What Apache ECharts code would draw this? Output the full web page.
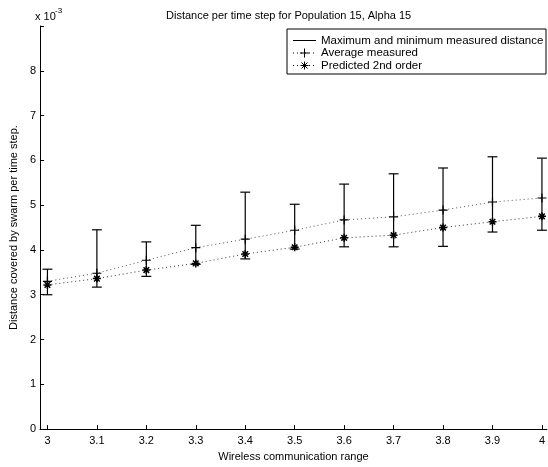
<!DOCTYPE html>
<html>
<head>
<meta charset="utf-8">
<script src="https://cdn.jsdelivr.net/npm/echarts@6/dist/echarts.min.js"></script>
<style>html,body{margin:0;padding:0;background:#fff}#c{width:548px;height:467px}</style>
</head>
<body>
<div id="c"></div>
<script>
// Values in units of 10^-3
const xValues = [3.0, 3.1, 3.2, 3.3, 3.4, 3.5, 3.6, 3.7, 3.8, 3.9, 4.0];
const maxDist = [3.57, 4.45, 4.18, 4.55, 5.29, 5.02, 5.47, 5.70, 5.83, 6.08, 6.05];
const minDist = [3.00, 3.17, 3.41, 3.68, 3.80, 4.02, 4.07, 4.07, 4.08, 4.40, 4.44];
const avgMeasured = [3.30, 3.48, 3.77, 4.05, 4.24, 4.44, 4.67, 4.74, 4.89, 5.07, 5.16];
const predicted = [3.22, 3.36, 3.55, 3.70, 3.91, 4.06, 4.27, 4.33, 4.50, 4.63, 4.75];
const xTicks = [3.0, 3.1, 3.2, 3.3, 3.4, 3.5, 3.6, 3.7, 3.8, 3.9, 4.0];
const yTicks = [0, 1, 2, 3, 4, 5, 6, 7, 8];
const seriesNames = ['Maximum and minimum measured distance', 'Average measured', 'Predicted 2nd order'];
const capHalf = 0.01; // errorbar tee half-width in x units

const FONT = 'Liberation Sans, Arial, Helvetica, sans-serif';
const chart = echarts.init(document.getElementById('c'), null, {renderer: 'canvas'});

const plusPath = 'path://M5,0L5,10M0,5L10,5';
const starPath = 'path://M5,0L5,10M0,5L10,5M1.5,1.5L8.5,8.5M8.5,1.5L1.5,8.5';

const errData = xValues.map((x, i) => [x, minDist[i], maxDist[i]]);

function seg(x1, y1, x2, y2, dash) {
  return {type: 'line', shape: {x1, y1, x2, y2}, style: {stroke: '#000', lineWidth: 1, lineDash: dash || null}, silent: true};
}

const lgX = 287, lgY = 29, lgW = 259, lgH = 45;
const sx1 = 293, sx2 = 316, sc = 304.5;
const rows = [40.5, 53, 65.5];
const legendChildren = [
  {type: 'rect', shape: {x: lgX, y: lgY, width: lgW, height: lgH}, style: {fill: '#fff', stroke: '#000', lineWidth: 1}},
  seg(sx1, rows[0], sx2, rows[0]),
  seg(sx1, rows[1], sx2, rows[1], [1, 3]),
  seg(sc - 4.5, rows[1], sc + 4.5, rows[1]),
  seg(sc, rows[1] - 4.5, sc, rows[1] + 4.5),
  seg(sx1, rows[2], sx2, rows[2], [1, 3]),
  seg(sc - 4, rows[2], sc + 4, rows[2]),
  seg(sc, rows[2] - 4, sc, rows[2] + 4),
  seg(sc - 3, rows[2] - 3, sc + 3, rows[2] + 3),
  seg(sc + 3, rows[2] - 3, sc - 3, rows[2] + 3)
];
seriesNames.forEach((n, i) => {
  legendChildren.push({type: 'text', x: 321, y: rows[i], style: {text: n, font: '11.5px ' + FONT, fill: '#000', textVerticalAlign: 'middle'}});
});

const option = {
  animation: false,
  backgroundColor: '#fff',
  title: {
    text: 'Distance per time step for Population 15, Alpha 15',
    left: 161, top: 5,
    textStyle: {fontSize: 11, fontWeight: 'normal', color: '#000', fontFamily: FONT}
  },
  grid: {left: 40, right: 0, top: 26, bottom: 33, containLabel: false},
  xAxis: {
    type: 'value', min: 2.985, max: 4.01,
    name: 'Wireless communication range', nameLocation: 'middle', nameGap: 20,
    nameTextStyle: {fontSize: 11, color: '#000', fontFamily: FONT},
    axisLine: {show: true, lineStyle: {color: '#000', width: 1}},
    axisTick: {show: true, inside: true, length: 4, lineStyle: {color: '#000'}, customValues: xTicks},
    axisLabel: {show: true, margin: 6, fontSize: 11, color: '#000', fontFamily: FONT, customValues: xTicks,
      formatter: v => String(Number(v.toFixed(1)))},
    splitLine: {show: false}
  },
  yAxis: {
    type: 'value', min: 0, max: 9, interval: 1,
    name: 'Distance covered by swarm per time step.', nameLocation: 'middle', nameGap: 18,
    nameTextStyle: {fontSize: 11, color: '#000', fontFamily: FONT},
    axisLine: {show: true, lineStyle: {color: '#000', width: 1}},
    axisTick: {show: true, inside: true, length: 4, lineStyle: {color: '#000'}},
    axisLabel: {show: true, margin: 4, fontSize: 11, color: '#000', fontFamily: FONT,
      formatter: v => (yTicks.indexOf(v) >= 0 ? String(v) : '')},
    splitLine: {show: false}
  },
  series: [
    {
      name: seriesNames[0], type: 'custom', data: errData, z: 2,
      encode: {x: 0, y: [1, 2]},
      renderItem: function (params, api) {
        const x = api.value(0), lo = api.value(1), hi = api.value(2);
        const t = api.coord([x, hi]), b = api.coord([x, lo]);
        const tl = api.coord([x - capHalf, hi]), tr = api.coord([x + capHalf, hi]);
        const bl = api.coord([x - capHalf, lo]), br = api.coord([x + capHalf, lo]);
        const st = {stroke: '#000', lineWidth: 1.2};
        return {type: 'group', children: [
          {type: 'line', shape: {x1: t[0], y1: t[1], x2: b[0], y2: b[1]}, style: st},
          {type: 'line', shape: {x1: tl[0], y1: tl[1], x2: tr[0], y2: tr[1]}, style: st},
          {type: 'line', shape: {x1: bl[0], y1: bl[1], x2: br[0], y2: br[1]}, style: st}
        ]};
      }
    },
    {
      name: seriesNames[1], type: 'line', z: 3,
      data: xValues.map((x, i) => [x, avgMeasured[i]]),
      symbol: plusPath, symbolSize: 9, showSymbol: true,
      itemStyle: {color: 'rgba(0,0,0,0)', borderColor: '#000', borderWidth: 1.2},
      lineStyle: {color: '#555', width: 1, type: [1, 3]}
    },
    {
      name: seriesNames[2], type: 'line', z: 3,
      data: xValues.map((x, i) => [x, predicted[i]]),
      symbol: starPath, symbolSize: 8, showSymbol: true,
      itemStyle: {color: 'rgba(0,0,0,0)', borderColor: '#000', borderWidth: 1.5},
      lineStyle: {color: '#333', width: 1, type: [1, 3]}
    }
  ],
  graphic: [
    {type: 'group', children: legendChildren, z: 100},
    {type: 'text', x: 35, y: 17, z: 100, style: {text: 'x 10', font: '11px ' + FONT, fill: '#000', textVerticalAlign: 'middle'}},
    {type: 'text', x: 55, y: 11, z: 100, style: {text: '-3', font: '8px ' + FONT, fill: '#000', textVerticalAlign: 'middle'}}
  ]
};
chart.setOption(option);
</script>
</body>
</html>
